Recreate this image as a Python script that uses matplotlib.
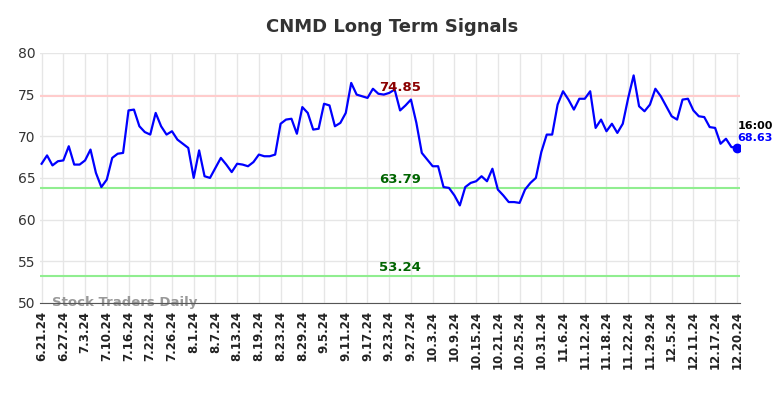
import numpy as np
import matplotlib
matplotlib.use('Agg')
import matplotlib.pyplot as plt

# closing-price signal series (one value per trading day)
values = [66.7, 67.7, 66.5, 67.0, 67.1, 68.8, 66.6, 66.6, 67.1, 68.4,
          65.6, 63.9, 64.8, 67.4, 67.9, 68.0, 73.1, 73.2, 71.2, 70.5,
          70.2, 72.8, 71.2, 70.2, 70.6, 69.6, 69.1, 68.6, 65.0, 68.3,
          65.2, 65.0, 66.2, 67.4, 66.6, 65.7, 66.7, 66.6, 66.4, 66.9,
          67.8, 67.6, 67.6, 67.8, 71.5, 72.0, 72.1, 70.3, 73.5, 72.8,
          70.8, 70.9, 73.9, 73.7, 71.2, 71.6, 72.8, 76.4, 75.0, 74.8,
          74.6, 75.7, 75.1, 75.0, 75.2, 75.6, 73.1, 73.7, 74.4, 71.6,
          68.0, 67.2, 66.4, 66.4, 63.9, 63.8, 62.9, 61.7, 63.9, 64.4,
          64.6, 65.2, 64.6, 66.1, 63.6, 62.9, 62.1, 62.1, 62.0, 63.6,
          64.4, 65.0, 68.1, 70.2, 70.2, 73.8, 75.4, 74.4, 73.2, 74.5,
          74.5, 75.4, 71.0, 72.0, 70.6, 71.5, 70.4, 71.5, 74.6, 77.3,
          73.6, 73.0, 73.8, 75.7, 74.8, 73.6, 72.4, 72.0, 74.4, 74.5,
          73.1, 72.4, 72.3, 71.1, 71.0, 69.1, 69.7, 68.7, 68.63]

tick_labels = ['6.21.24', '6.27.24', '7.3.24', '7.10.24', '7.16.24', '7.22.24',
               '7.26.24', '8.1.24', '8.7.24', '8.13.24', '8.19.24', '8.23.24',
               '8.29.24', '9.5.24', '9.11.24', '9.17.24', '9.23.24', '9.27.24',
               '10.3.24', '10.9.24', '10.15.24', '10.21.24', '10.25.24', '10.31.24',
               '11.6.24', '11.12.24', '11.18.24', '11.22.24', '11.29.24', '12.5.24',
               '12.11.24', '12.17.24', '12.20.24']

resistance = 74.85
support_hi = 63.79
support_lo = 53.24
last_time = '16:00'

x = np.arange(len(values))

fig = plt.figure(figsize=(7.84, 3.98), dpi=100)
ax = fig.add_axes([0.051, 0.239, 0.893, 0.628])

ax.plot(x, values, color='blue', lw=1.6, zorder=3)
ax.plot(x[-1], values[-1], 'o', color='blue', ms=6, zorder=4)

# signal levels
ax.axhline(resistance, color='#ffcccc', lw=1.5, zorder=2)
ax.axhline(support_hi, color='#90ee90', lw=1.5, zorder=2)
ax.axhline(support_lo, color='#90ee90', lw=1.5, zorder=2)
mid = 66
ax.text(mid, resistance + 0.2, f'{resistance:.2f}', color='#8b0000', fontsize=9.5,
        fontweight='bold', ha='center', va='bottom', zorder=5)
ax.text(mid, support_hi + 0.2, f'{support_hi:.2f}', color='#006400', fontsize=9.5,
        fontweight='bold', ha='center', va='bottom', zorder=5)
ax.text(mid, support_lo + 0.2, f'{support_lo:.2f}', color='#006400', fontsize=9.5,
        fontweight='bold', ha='center', va='bottom', zorder=5)

# last value annotation
ax.text(x[-1] + 0.1, values[-1] + 2.0, last_time, color='black', fontsize=8,
        fontweight='bold', ha='left', va='bottom')
ax.text(x[-1] + 0.1, values[-1] + 1.7, f'{values[-1]:.2f}', color='blue', fontsize=8,
        fontweight='bold', ha='left', va='top')

ax.text(2, 50.05, 'Stock Traders Daily', color='#999999', fontsize=9.5,
        fontweight='bold', ha='left', va='center', zorder=1)

ax.set_xlim(-0.3, 128.6)
ax.set_ylim(50, 80)
ax.set_yticks([50, 55, 60, 65, 70, 75, 80])
ax.set_xticks(np.arange(0, len(values), 4))
ax.set_xticklabels(tick_labels, rotation=90, fontsize=8.5, fontweight='bold', color='#222222')
ax.tick_params(axis='y', labelsize=10, colors='#333333', length=0, pad=3)
ax.tick_params(axis='x', length=0, pad=6)
ax.grid(True, color='#e6e6e6', lw=1)
ax.set_axisbelow(True)
for s in ['top', 'right', 'left']:
    ax.spines[s].set_visible(False)
ax.spines['bottom'].set_color('#555555')

fig.suptitle('CNMD Long Term Signals', fontsize=13, fontweight='bold', color='#333333', y=0.955)

fig.savefig('out.png', dpi=100)
